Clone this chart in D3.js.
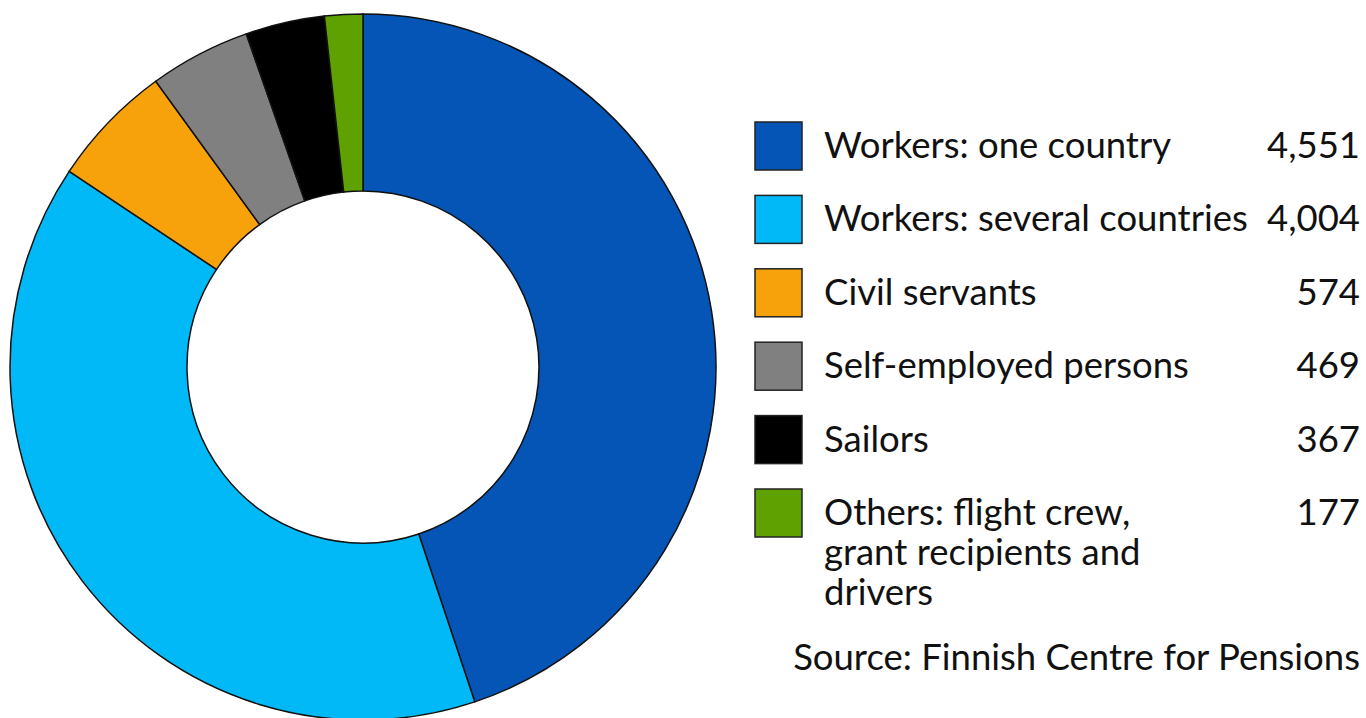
<!DOCTYPE html>
<html lang="en">
<head>
<meta charset="utf-8" />
<title>Finnish Centre for Pensions</title>
<script src="https://d3js.org/d3.v7.min.js"></script>
<style>
  body { margin: 0; background: #fff; }
  text { font-family: Lato, "Noto Sans", sans-serif; fill: #111; }
</style>
</head>
<body>
<div id="chart"></div>
<script>
var categories = ["Workers: one country", "Workers: several countries", "Civil servants",
                  "Self-employed persons", "Sailors", "Others: flight crew,|grant recipients and|drivers"];
var values = [4551, 4004, 574, 469, 367, 177];
var colours = ["#0455b5", "#00b9f6", "#f7a10b", "#808080", "#000000", "#5fa101"];
var source = "Source: Finnish Centre for Pensions";

var width = 1366, height = 718;
var cx = 363, cy = 367;
var outerR = 353, innerR = 176;

var svg = d3.select("#chart").append("svg")
  .attr("width", width)
  .attr("height", height);

var pie = d3.pie().sort(null).value(function(d) { return d; });
var arc = d3.arc().innerRadius(innerR).outerRadius(outerR);

//donut slices, clockwise from 12 o'clock
svg.append("g")
  .attr("transform", "translate(" + cx + "," + cy + ")")
  .selectAll("path")
  .data(pie(values))
  .join("path")
  .attr("d", arc)
  .attr("fill", function(d, i) { return colours[i]; })
  .attr("stroke", "#111")
  .attr("stroke-width", 1.5);

//legend
var rowY = d3.scalePoint().domain(d3.range(categories.length)).range([122, 489]);
var fmt = d3.format(",");
var fs = 36.5;

var rows = svg.append("g").selectAll("g")
  .data(categories)
  .join("g")
  .attr("transform", function(d, i) { return "translate(0," + rowY(i) + ")"; });

rows.append("rect")
  .attr("x", 755).attr("y", 0)
  .attr("width", 47).attr("height", 48)
  .attr("fill", function(d, i) { return colours[i]; })
  .attr("stroke", "#222")
  .attr("stroke-width", 1.5);

rows.append("text")
  .attr("x", 824)
  .attr("y", 36)
  .attr("font-size", fs)
  .selectAll("tspan")
  .data(function(d) { return d.split("|"); })
  .join("tspan")
  .attr("x", 824)
  .attr("dy", function(d, j) { return j === 0 ? 0 : 40; })
  .text(function(d) { return d; });

rows.append("text")
  .attr("x", 1360)
  .attr("y", 36)
  .attr("font-size", fs)
  .attr("text-anchor", "end")
  .text(function(d, i) { return fmt(values[i]); });

svg.append("text")
  .attr("x", 1360)
  .attr("y", 670)
  .attr("font-size", fs)
  .attr("text-anchor", "end")
  .text(source);
</script>
</body>
</html>
